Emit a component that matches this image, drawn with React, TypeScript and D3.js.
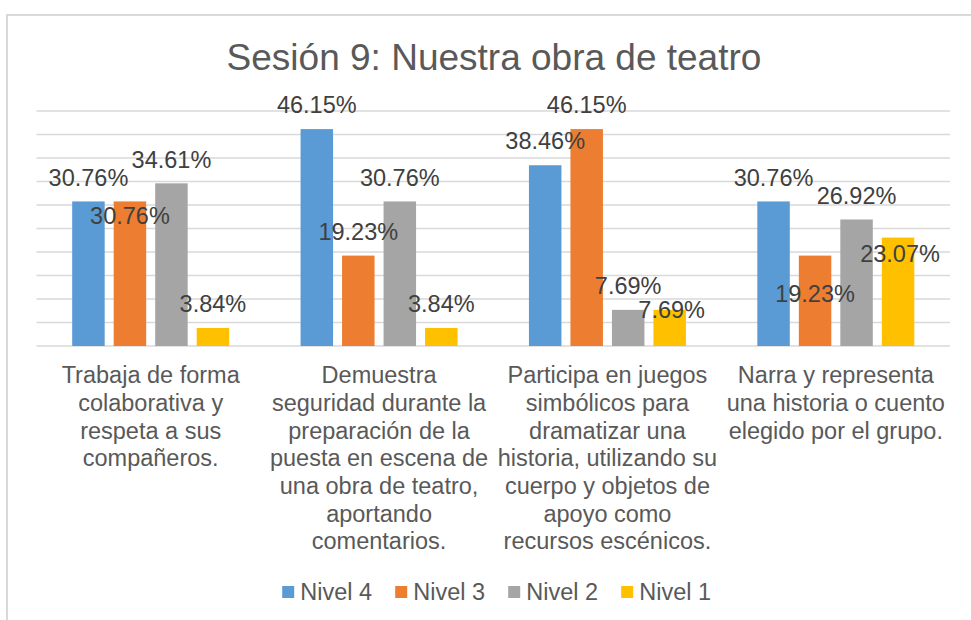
import * as d3 from "d3";

const categories = [
  "Trabaja de forma colaborativa y respeta a sus compañeros.",
  "Demuestra seguridad durante la preparación de la puesta en escena de una obra de teatro, aportando comentarios.",
  "Participa en juegos simbólicos para dramatizar una historia, utilizando su cuerpo y objetos de apoyo como recursos escénicos.",
  "Narra y representa una historia o cuento elegido por el grupo.",
];

// wrapped lines of each category label, as they appear under the axis
const categoryLines = [
  ["Trabaja de forma", "colaborativa y", "respeta a sus", "compañeros."],
  ["Demuestra", "seguridad durante la", "preparación de la", "puesta en escena de", "una obra de teatro,", "aportando", "comentarios."],
  ["Participa en juegos", "simbólicos para", "dramatizar una", "historia, utilizando su", "cuerpo y objetos de", "apoyo como", "recursos escénicos."],
  ["Narra y representa", "una historia o cuento", "elegido por el grupo."],
];

const series = ["Nivel 4", "Nivel 3", "Nivel 2", "Nivel 1"];
const nivel4 = [30.76, 46.15, 38.46, 30.76];
const nivel3 = [30.76, 19.23, 46.15, 19.23];
const nivel2 = [34.61, 30.76, 7.69, 26.92];
const nivel1 = [3.84, 3.84, 7.69, 23.07];
const values = [nivel4, nivel3, nivel2, nivel1];

const yTicks = d3.range(0, 50.1, 5);

const colors = ["#5B9BD5", "#ED7D31", "#A5A5A5", "#FFC000"];

// manual nudges of some data labels (px, relative to the default spot above the bar)
const labelNudge: Record<string, [number, number]> = {
  "0-1": [0, 38],
  "2-3": [2, 24],
  "3-1": [0, 62],
  "3-3": [2, 40],
};

const W = 971;
const H = 620;
const FONT = "'Liberation Sans', Arial, sans-serif";
const TEXT = "#595959";

export default function App() {
  const x0 = d3.scaleBand<number>()
    .domain(d3.range(categories.length))
    .range([36.5, 950]);
  const x1 = d3.scaleBand<number>()
    .domain(d3.range(series.length))
    .range([0, x0.bandwidth()])
    .paddingInner(0.217)
    .paddingOuter(0.86);
  const y = d3.scaleLinear().domain([0, 50]).range([346, 111]);

  const legendStep = 113;
  const legendStart = 496.5 - (legendStep * 3 + 18 + 71.6) / 2;

  return (
    <svg width={W} height={H} style={{ position: "absolute", left: 0, top: 0, background: "#fff" }} fontFamily={FONT}>
      <rect x={7} y={15} width={1000} height={700} fill="#fff" stroke="#D9D9D9" strokeWidth={2} />

      <text x={494} y={70} textAnchor="middle" fontSize={37} fill={TEXT}>
        Sesión 9: Nuestra obra de teatro
      </text>

      {/* grid */}
      {yTicks.map(t => (
        <line key={t} x1={x0.range()[0]} x2={x0.range()[1]} y1={y(t)} y2={y(t)} stroke="#D9D9D9" strokeWidth={1.3} />
      ))}

      {/* bars */}
      {categories.map((_, ci) => (
        <g key={ci} transform={`translate(${x0(ci)},0)`}>
          {series.map((_, si) => {
            const v = values[si][ci];
            return (
              <rect key={si} x={x1(si)} width={x1.bandwidth()} y={y(v)} height={y(0) - y(v)} fill={colors[si]} />
            );
          })}
        </g>
      ))}

      {/* data labels */}
      {categories.map((_, ci) =>
        series.map((_, si) => {
          const v = values[si][ci];
          const n = labelNudge[`${ci}-${si}`] || [0, 0];
          const cx = (x0(ci) as number) + (x1(si) as number) + x1.bandwidth() / 2 + n[0];
          return (
            <text key={`${ci}-${si}`} x={cx} y={y(v) - 24 + n[1]} dy="0.35em" textAnchor="middle" fontSize={23.5} fill="#404040">
              {v.toFixed(2)}%
            </text>
          );
        })
      )}

      {/* category labels */}
      {categoryLines.map((lines, ci) => (
        <text key={ci} textAnchor="middle" fontSize={23.5} fill={TEXT}>
          {lines.map((l, li) => (
            <tspan key={li} x={(x0(ci) as number) + x0.bandwidth() / 2} y={375 + li * 27.7} dy="0.35em">{l}</tspan>
          ))}
        </text>
      ))}

      {/* legend */}
      {series.map((s, si) => (
        <g key={s} transform={`translate(${legendStart + si * legendStep},592)`}>
          <rect x={0} y={-6} width={12} height={12} fill={colors[si]} />
          <text x={18} y={0} dy="0.35em" fontSize={23.5} fill={TEXT}>{s}</text>
        </g>
      ))}
    </svg>
  );
}
